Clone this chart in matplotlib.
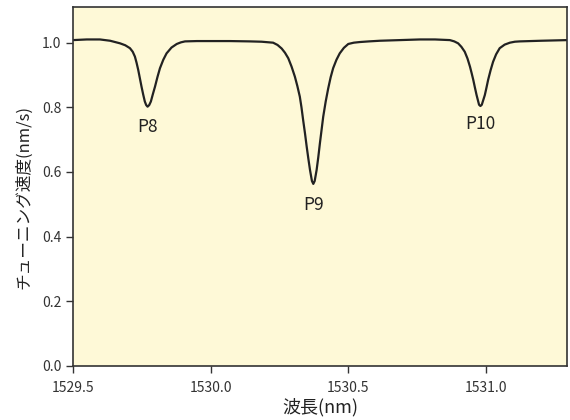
import numpy as np
import matplotlib
matplotlib.use("Agg")
import matplotlib.pyplot as plt

plt.rcParams['font.family'] = ['Liberation Sans Narrow', 'Noto Sans CJK JP', 'DejaVu Sans']

# curve (wavelength nm, tuning speed nm/s)
wavelength = [1529.500, 1529.550, 1529.598, 1529.635, 1529.671, 1529.690, 1529.707,
              1529.717, 1529.725, 1529.731, 1529.737, 1529.743, 1529.749, 1529.755,
              1529.761, 1529.766, 1529.771, 1529.777, 1529.783, 1529.790, 1529.798,
              1529.807, 1529.816, 1529.828, 1529.840, 1529.858, 1529.877, 1529.892,
              1529.907, 1529.950, 1530.000, 1530.070, 1530.143, 1530.185, 1530.227,
              1530.243, 1530.258, 1530.270, 1530.282, 1530.294, 1530.306, 1530.315,
              1530.324, 1530.330, 1530.336, 1530.343, 1530.349, 1530.355, 1530.361,
              1530.368, 1530.373, 1530.378, 1530.385, 1530.391, 1530.397, 1530.403,
              1530.409, 1530.418, 1530.427, 1530.436, 1530.445, 1530.457, 1530.469,
              1530.484, 1530.500, 1530.520, 1530.542, 1530.575, 1530.615, 1530.760,
              1530.815, 1530.869, 1530.885, 1530.899, 1530.911, 1530.923, 1530.933,
              1530.942, 1530.948, 1530.954, 1530.960, 1530.966, 1530.975, 1530.980,
              1530.985, 1530.996, 1531.002, 1531.008, 1531.017, 1531.026, 1531.037,
              1531.050, 1531.068, 1531.087, 1531.105, 1531.123, 1531.200, 1531.297]
speed = [1.008, 1.010, 1.010, 1.006, 0.998, 0.992, 0.983,
         0.972, 0.957, 0.938, 0.916, 0.890, 0.864, 0.840,
         0.818, 0.807, 0.802, 0.807, 0.818, 0.840, 0.864,
         0.894, 0.921, 0.947, 0.967, 0.985, 0.996, 1.001,
         1.004, 1.005, 1.005, 1.005, 1.004, 1.003, 1.000,
         0.993, 0.982, 0.969, 0.952, 0.926, 0.895, 0.866,
         0.833, 0.800, 0.761, 0.718, 0.678, 0.641, 0.606,
         0.572, 0.563, 0.572, 0.606, 0.645, 0.689, 0.730,
         0.771, 0.818, 0.858, 0.893, 0.921, 0.947, 0.967,
         0.984, 0.996, 1.000, 1.002, 1.004, 1.006, 1.010,
         1.010, 1.008, 1.004, 0.998, 0.987, 0.972, 0.951,
         0.926, 0.906, 0.885, 0.861, 0.838, 0.808, 0.804,
         0.808, 0.838, 0.861, 0.885, 0.915, 0.941, 0.964,
         0.983, 0.994, 1.000, 1.003, 1.004, 1.006, 1.008]

peak_names = ['P8', 'P9', 'P10']
peak_x = [1529.771, 1530.373, 1530.980]
peak_label_y = [0.739, 0.498, 0.748]

fig = plt.figure(figsize=(5.7, 4.2), dpi=100)
ax = fig.add_axes([0.128, 0.129, 0.867, 0.854])
ax.set_facecolor('#FEF9D7')

ax.plot(wavelength, speed, color='#222222', lw=1.6, solid_joinstyle='round')
for name, px, py in zip(peak_names, peak_x, peak_label_y):
    ax.text(px, py, name, ha='center', va='center', fontsize=12.5, color='#222222')

ax.set_xlim(1529.5, 1531.295)
ax.set_ylim(0, 1.11)
ax.set_xticks([1529.5, 1530.0, 1530.5, 1531.0])
ax.set_xticklabels(['1529.5', '1530.0', '1530.5', '1531.0'])
ax.set_yticks([0.0, 0.2, 0.4, 0.6, 0.8, 1.0])
ax.set_yticklabels(['0.0', '0.2', '0.4', '0.6', '0.8', '1.0'])
ax.tick_params(direction='out', length=5, width=1, color='#333333',
               labelsize=10, labelcolor='#333333')
ax.tick_params(axis='x', pad=6)
for sp in ax.spines.values():
    sp.set_color('#333333')
    sp.set_linewidth(1.2)

ax.set_xlabel('波長(nm)', fontsize=13, color='#222222', labelpad=2)
ax.set_ylabel('チューニング速度(nm/s)', fontsize=12, color='#222222')
ax.yaxis.set_label_coords(-0.083, 0.47)

fig.savefig('out.png', dpi=100)
